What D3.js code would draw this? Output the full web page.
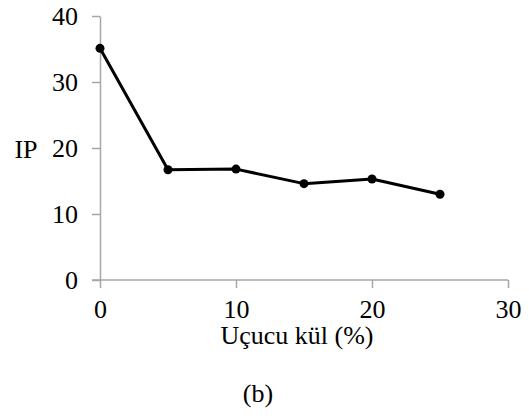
<!DOCTYPE html>
<html>
<head>
<meta charset="utf-8">
<script src="https://cdn.jsdelivr.net/npm/d3@7"></script>
<style>
  body { margin: 0; background: #fff; }
  svg text { font-family: "Liberation Serif", "Times New Roman", serif; fill: #000; }
</style>
</head>
<body>
<div id="chart"></div>
<script>
// fly ash % vs IP
var flyAsh = [0, 5, 10, 15, 20, 25];
var ip = [35.1, 16.7, 16.8, 14.6, 15.3, 13.0];
var xTicks = [0, 10, 20, 30];
var yTicks = [0, 10, 20, 30, 40];

const width = 529, height = 416;
const fontSize = 26;

var svg = d3.select("#chart").append("svg")
  .attr("width", width)
  .attr("height", height);

var x = d3.scaleLinear().domain([0, 30]).range([100, 508]);
var y = d3.scaleLinear().domain([0, 40]).range([280, 16]);

// y axis
var yAxis = svg.append("g")
  .attr("transform", "translate(100,0)")
  .call(d3.axisLeft(y).tickValues(yTicks).tickSize(8).tickSizeOuter(0).tickPadding(14));

// x axis
var xAxis = svg.append("g")
  .attr("transform", "translate(0,280)")
  .call(d3.axisBottom(x).tickValues(xTicks).tickSize(8).tickSizeOuter(0).tickPadding(12));

[xAxis, yAxis].forEach(function(g) {
  g.select(".domain").attr("stroke", "#a6a6a6").attr("stroke-width", 1.5);
  g.selectAll(".tick line").attr("stroke", "#a6a6a6").attr("stroke-width", 1.5);
  g.selectAll(".tick text")
    .style("font-family", "'Liberation Serif', serif")
    .style("font-size", fontSize + "px")
    .attr("fill", "#000");
});
// x axis line runs a bit left of the y axis
xAxis.select(".domain").attr("d", "M92,0H508");

// the line
var line = d3.line()
  .x(function(d, i) { return x(flyAsh[i]); })
  .y(function(d) { return y(d); });

svg.append("path")
  .datum(ip)
  .attr("d", line)
  .attr("fill", "none")
  .attr("stroke", "#000")
  .attr("stroke-width", 3)
  .attr("stroke-linejoin", "round");

svg.selectAll("circle.pt")
  .data(ip)
  .enter().append("circle")
  .attr("class", "pt")
  .attr("cx", function(d, i) { return x(flyAsh[i]); })
  .attr("cy", function(d) { return y(d); })
  .attr("r", 4.5)
  .attr("fill", "#000");

// titles
svg.append("text")
  .attr("x", 26).attr("y", 158)
  .attr("text-anchor", "middle")
  .style("font-size", fontSize + "px")
  .text("IP");

svg.append("text")
  .attr("x", 297).attr("y", 344)
  .attr("text-anchor", "middle")
  .style("font-size", fontSize + "px")
  .text("Uçucu kül (%)");

svg.append("text")
  .attr("x", 258).attr("y", 402)
  .attr("text-anchor", "middle")
  .style("font-size", fontSize + "px")
  .text("(b)");
</script>
</body>
</html>
